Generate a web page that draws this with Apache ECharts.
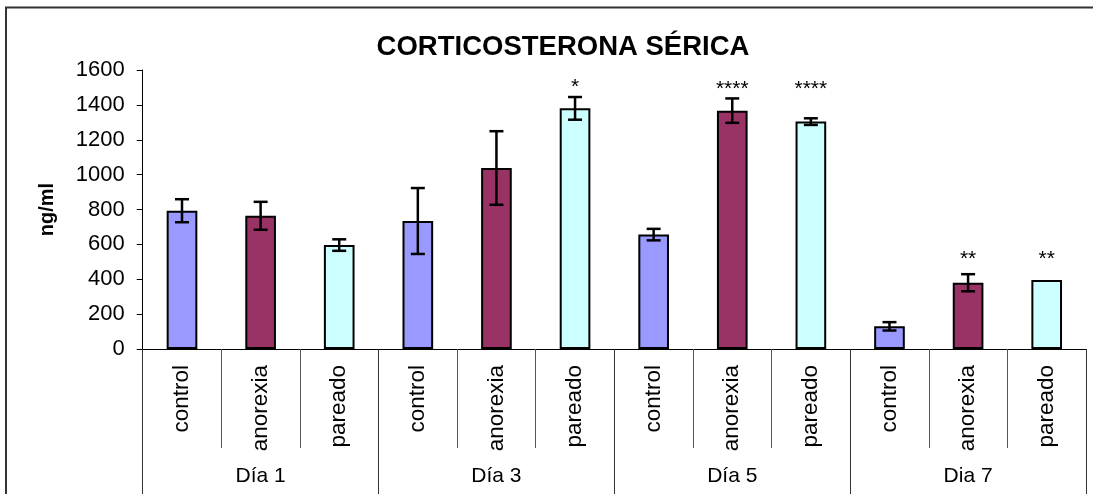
<!DOCTYPE html>
<html>
<head>
<meta charset="utf-8">
<script src="https://cdn.jsdelivr.net/npm/echarts@6/dist/echarts.min.js"></script>
<style>
html,body{margin:0;padding:0;background:#fff;}
#chart{width:1093px;height:494px;}
</style>
</head>
<body>
<div id="chart"></div>
<script>
// ---- data ----
const days = ["Día 1", "Día 3", "Día 5", "Dia 7"];
const groups = ["control", "anorexia", "pareado"];
const groupColors = ["#9999FF", "#993366", "#CCFFFF"];
const means = [793, 764, 596, 734, 1038, 1380, 656, 1367, 1304, 130, 380, 396];
const errors = [66, 80, 33, 189, 211, 65, 33, 70, 19, 24, 49, 0];
const stars = ["", "", "", "", "", "*", "", "****", "****", "", "**", "**"];
const starLevels = [0, 0, 0, 0, 0, 1525, 0, 1514, 1514, 0, 539, 539];
const yTicks = [0, 200, 400, 600, 800, 1000, 1200, 1400, 1600];

// ---- build ----
const categories = [];
days.forEach(() => groups.forEach(g => categories.push(g)));
const FONT = "Liberation Sans, Arial, sans-serif";

const chart = echarts.init(document.getElementById('chart'), null, {renderer: 'canvas'});
const option = {
  animation: false,
  backgroundColor: '#ffffff',
  title: {
    text: 'CORTICOSTERONA SÉRICA',
    left: 558, top: 28, textAlign: 'center',
    textStyle: {fontFamily: FONT, fontSize: 27.5, fontWeight: 'bold', color: '#000'}
  },
  graphic: [{
    type: 'rect', shape: {x: 6, y: 7.5, width: 1200, height: 600},
    style: {fill: 'none', stroke: '#333', lineWidth: 2}, silent: true, z: -10
  }],
  grid: {left: 142.7, right: 7, top: 70, bottom: 145, containLabel: false},
  xAxis: [{
    type: 'category', data: categories, position: 'bottom',
    axisLine: {show: true, lineStyle: {color: '#000', width: 1}},
    axisTick: {show: true, length: 99, interval: 0, lineStyle: {color: '#555', width: 1}},
    axisLabel: {show: true, interval: 0, rotate: 90, margin: 16, fontFamily: FONT, fontSize: 22.5, color: '#000'}
  }, {
    type: 'category', data: days, position: 'bottom',
    axisLine: {show: false},
    axisTick: {show: true, length: 160, interval: 0, lineStyle: {color: '#333', width: 1}},
    axisLabel: {show: true, interval: 0, margin: 117, fontFamily: FONT, fontSize: 21, color: '#000'}
  }],
  yAxis: {
    type: 'value', min: 0, max: 1600, interval: 200,
    name: 'ng/ml', nameLocation: 'middle', nameGap: 85, nameRotate: 90,
    nameTextStyle: {fontFamily: FONT, fontSize: 20, fontWeight: 'bold', color: '#000'},
    axisLine: {show: true, lineStyle: {color: '#000', width: 1}},
    axisTick: {show: true, length: 6, lineStyle: {color: '#000'}},
    axisLabel: {margin: 18, fontFamily: FONT, fontSize: 22, color: '#000',
      formatter: v => yTicks.includes(v) ? String(v) : ''},
    splitLine: {show: false}
  },
  series: [{
    type: 'bar', xAxisIndex: 0,
    barWidth: '39%',
    data: means.map((v, i) => ({
      value: v,
      itemStyle: {color: groupColors[i % 3], borderColor: '#000', borderWidth: 2}
    })),
    z: 2
  }, {
    type: 'custom', xAxisIndex: 0,
    data: means.map((v, i) => [i, v, errors[i]]),
    renderItem: function (params, api) {
      const x = api.value(0), m = api.value(1), e = api.value(2);
      if (!e) return null;
      const top = api.coord([x, m + e]);
      const bot = api.coord([x, m - e]);
      const hw = 7;
      const style = {stroke: '#000', lineWidth: 2.5};
      return {type: 'group', children: [
        {type: 'line', shape: {x1: top[0], y1: top[1], x2: bot[0], y2: bot[1]}, style},
        {type: 'line', shape: {x1: top[0] - hw, y1: top[1], x2: top[0] + hw, y2: top[1]}, style},
        {type: 'line', shape: {x1: bot[0] - hw, y1: bot[1], x2: bot[0] + hw, y2: bot[1]}, style}
      ]};
    },
    z: 3
  }, {
    type: 'custom', xAxisIndex: 0,
    data: stars.map((s, i) => [i, starLevels[i], s]),
    renderItem: function (params, api) {
      const s = stars[params.dataIndex];
      if (!s) return null;
      const p = api.coord([api.value(0), api.value(1)]);
      return {type: 'text', style: {
        x: p[0], y: p[1] + 4, text: s, align: 'center', verticalAlign: 'middle',
        font: '21px ' + FONT, fill: '#000'
      }};
    },
    z: 4
  }]
};
chart.setOption(option);
</script>
</body>
</html>
